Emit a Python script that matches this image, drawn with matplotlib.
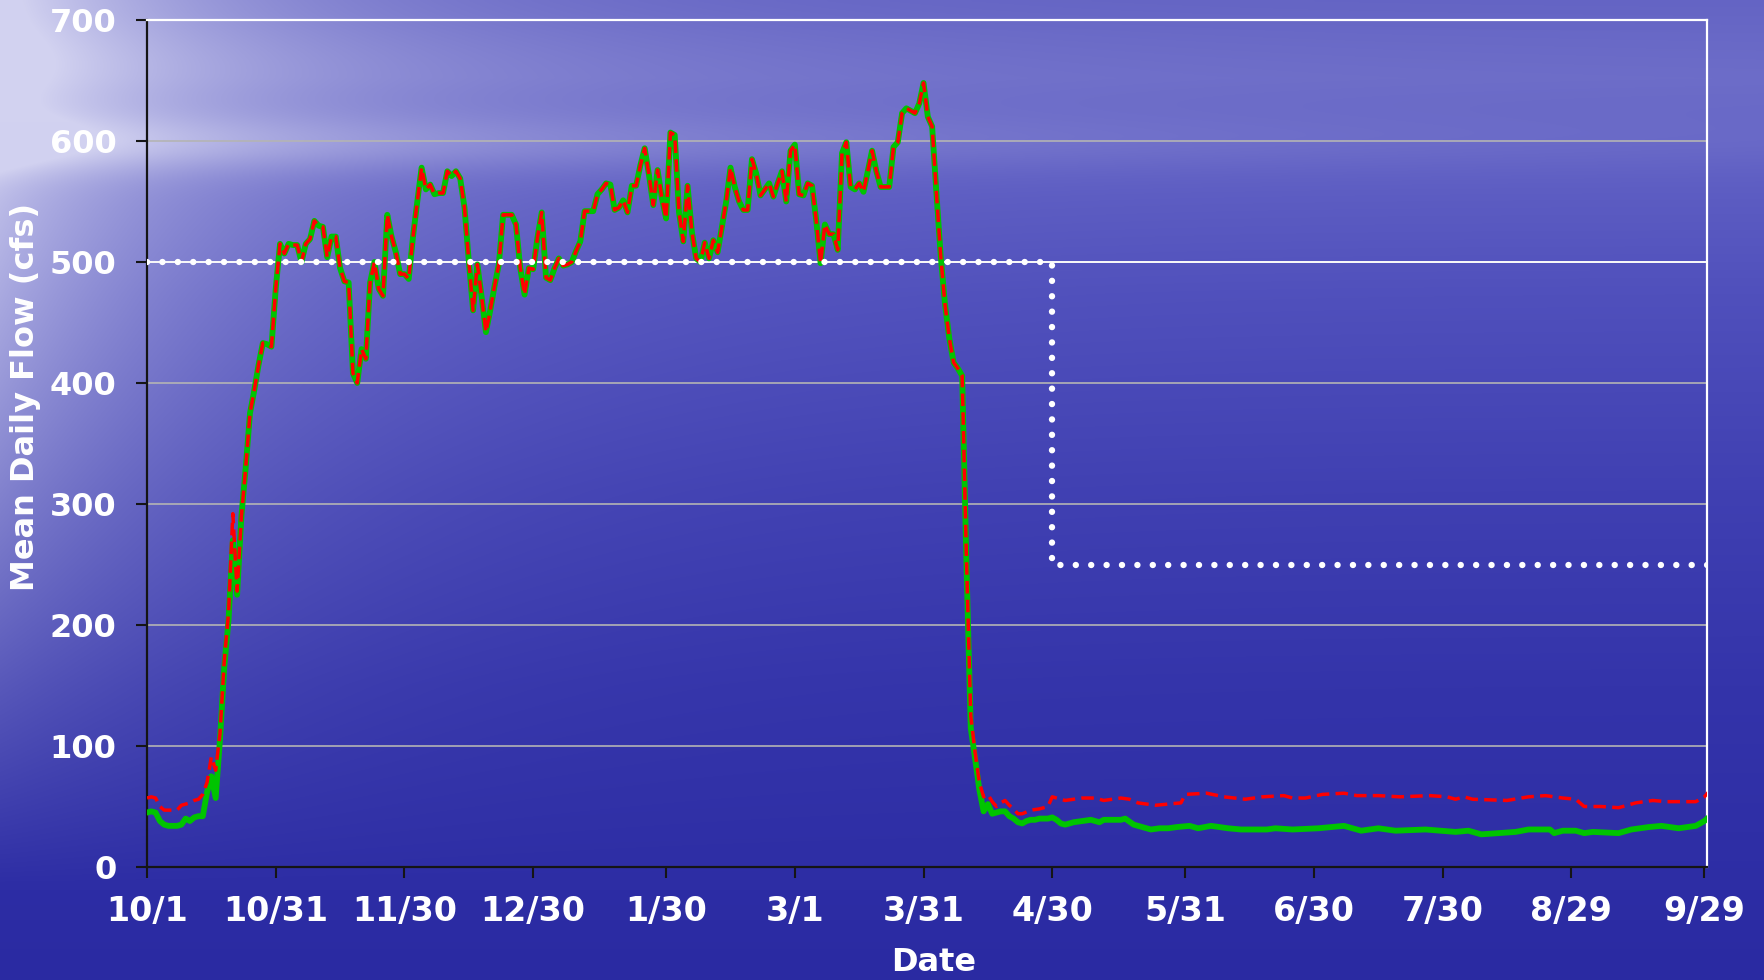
import numpy as np
import pandas as pd
import matplotlib
matplotlib.use("Agg")
import matplotlib.pyplot as plt

# ---- daily flow data (day 0 = 10/1) ----
water_year_start = pd.Timestamp("2006-10-01")

# early October, before the two records merge
start_days = list(range(0, 22))
green_start = [45, 46, 45, 38, 35, 34, 34, 34, 35, 40, 38, 41, 42, 42, 62, 75, 57, 105, 165, 204, 270, 225]
red_start = [57, 58, 57, 50, 47, 47, 47, 47, 51, 52, 53, 55, 56, 60, 70, 91, 80, 110, 170, 210, 292, 228]

# high-flow season, both records identical (days 22..190)
peak_first_day = 22
peak_flow = [
    290, 330, 375, 394, 415, 433, 432, 430, 478, 515,
    507, 515, 514, 514, 500, 515, 519, 534, 530, 529,
    504, 521, 521, 495, 484, 483, 408, 400, 428, 420,
    483, 500, 478, 472, 539, 521, 508, 490, 490, 486,
    521, 550, 578, 560, 564, 556, 557, 557, 575, 571,
    575, 569, 545, 501, 460, 498, 471, 442, 460, 480,
    498, 539, 539, 539, 531, 495, 473, 495, 494, 520,
    541, 487, 485, 495, 503, 497, 498, 500, 509, 517,
    542, 542, 542, 556, 560, 565, 564, 543, 545, 551,
    541, 563, 563, 580, 594, 572, 547, 576, 553, 536,
    607, 605, 541, 517, 563, 525, 503, 500, 516, 503,
    518, 508, 529, 550, 578, 562, 550, 543, 543, 585,
    573, 555, 560, 565, 554, 565, 575, 550, 592, 597,
    556, 555, 565, 563, 534, 499, 531, 523, 523, 510,
    590, 599, 562, 560, 565, 558, 575, 592, 575, 562,
    562, 562, 595, 599, 623, 627, 625, 623, 631, 648,
    620, 612, 557, 505, 465, 437, 417, 412, 406,
]

# recession and summer low flow
green_tail_days = [191, 192, 193, 194, 195, 196, 197, 198, 199, 200,
                   201, 202, 203, 204, 205, 206, 207, 208, 209, 210,
                   211, 212, 213, 214, 216, 218, 220, 222, 223, 226,
                   227, 228, 230, 232, 234, 236, 238, 240, 243, 245,
                   248, 252, 255, 261, 263, 267, 273, 279, 283, 287,
                   291, 298, 305, 308, 311, 315, 319, 322, 327, 328,
                   330, 333, 335, 337, 343, 346, 350, 353, 357, 361,
                   363, 364]
green_tail = [250, 115, 90, 64, 46, 52, 44, 45, 46, 46,
              42, 40, 37, 36, 38, 39, 39, 40, 40, 40,
              41, 39, 36, 35, 37, 38, 39, 37, 39, 39,
              39, 40, 35, 33, 31, 32, 32, 33, 34, 32,
              34, 32, 31, 31, 32, 31, 32, 34, 30, 32,
              30, 31, 29, 30, 27, 28, 29, 31, 31, 28,
              30, 30, 28, 29, 28, 31, 33, 34, 32, 34,
              38, 41]

red_tail_days = [191, 192, 193, 194, 195, 196, 197, 198, 199, 200,
                 201, 202, 203, 204, 206, 208, 210, 211, 214, 218,
                 221, 223, 227, 229, 231, 235, 238, 241, 242, 247,
                 251, 256, 260, 265, 267, 270, 274, 279, 282, 287,
                 292, 299, 303, 305, 307, 309, 317, 322, 326, 330,
                 333, 335, 339, 343, 347, 351, 354, 361, 363, 364]
red_tail = [255, 125, 95, 70, 58, 60, 54, 50, 53, 55,
            51, 48, 44, 44, 47, 48, 50, 58, 55, 57,
            57, 55, 57, 56, 53, 51, 52, 53, 60, 61,
            58, 56, 58, 59, 57, 57, 60, 61, 59, 59,
            58, 59, 58, 56, 58, 56, 55, 58, 59, 57,
            56, 50, 50, 49, 53, 55, 54, 54, 58, 62]

# minimum flow requirement: 500 cfs until 4/30, then 250 cfs
threshold_days = [0, 211, 211, 365]
threshold_flow = [500, 500, 250, 250]

tick_labels = ["10/1", "10/31", "11/30", "12/30", "1/30", "3/1", "3/31",
               "4/30", "5/31", "6/30", "7/30", "8/29", "9/29"]
y_ticks = [0, 100, 200, 300, 400, 500, 600, 700]


def to_dates(days):
    return water_year_start + pd.to_timedelta(np.asarray(days, dtype=float), unit="D")


def label_to_date(label):
    month, day = (int(v) for v in label.split("/"))
    year = water_year_start.year if month >= 10 else water_year_start.year + 1
    return pd.Timestamp(year=year, month=month, day=day)


peak_days = list(range(peak_first_day, peak_first_day + len(peak_flow)))
green_days = start_days + peak_days + green_tail_days
green_flow = green_start + peak_flow + green_tail
red_days = start_days + peak_days + red_tail_days
red_flow = red_start + peak_flow + red_tail

# ---- ocean-like backdrop ----
W, H = 1765, 980
yy = np.linspace(0, 1, H)[:, None]
xx = np.linspace(0, 1, W)[None, :]

stops = [0.0, 0.08, 0.17, 0.30, 0.50, 0.70, 1.0]
r_st = [100, 108, 96, 80, 64, 52, 42]
b_st = [196, 200, 196, 188, 178, 170, 162]
r = np.interp(yy, stops, r_st) * np.ones_like(xx)
b = np.interp(yy, stops, b_st) * np.ones_like(xx)
bg = np.stack([r, r, b], axis=-1)

# light haze on the left side, clouds and a bright band along the horizon
haze = np.exp(-xx / 0.14) * np.clip(0.95 - 1.05 * yy, 0, 1)
horizon = 0.40 * np.exp(-((yy - 0.145) / 0.03) ** 2) * np.exp(-xx / 0.45)
cloud = 0.22 * np.exp(-((yy - 0.07) / 0.05) ** 2) * np.exp(-xx / 0.30)
light = np.clip(haze + horizon + cloud, 0, 0.9)[..., None]
bg = bg * (1 - light) + np.array([222, 222, 245]) * light
bg = np.clip(bg, 0, 255).astype(np.uint8)

fig = plt.figure(figsize=(17.65, 9.8), dpi=100)
bg_ax = fig.add_axes([0, 0, 1, 1], zorder=0)
bg_ax.imshow(bg, aspect="auto", interpolation="bilinear")
bg_ax.axis("off")

ax = fig.add_axes([0.0833, 0.1153, 0.8838, 0.8643], zorder=1)
ax.set_facecolor("none")

ax.set_ylim(0, 700)
ax.set_xlim(water_year_start, water_year_start + pd.Timedelta(days=363.6))

for yv in y_ticks[1:-1]:
    ax.axhline(yv, color="#b4b4b4", lw=1.2, zorder=1)
ax.axhline(500, color="white", lw=1.3, zorder=1.5)

ax.plot(to_dates(green_days), green_flow, color="#00c400", lw=4.2,
        solid_joinstyle="round", zorder=3)
ax.plot(to_dates(red_days), red_flow, color="#ff0000", lw=2.5,
        dashes=(3.6, 1.8), zorder=3.5)

ax.plot(to_dates(threshold_days), threshold_flow, color="white", lw=4.6,
        linestyle=(0, (0.01, 2.4)), dash_capstyle="round", zorder=4)

ax.set_yticks(y_ticks)
ax.set_xticks([label_to_date(t) for t in tick_labels])
ax.set_xticklabels(tick_labels)

for lab in ax.get_yticklabels():
    lab.set_fontsize(23)
for lab in ax.get_xticklabels():
    lab.set_fontsize(24)
for lab in ax.get_xticklabels() + ax.get_yticklabels():
    lab.set_color("white")
    lab.set_fontweight("bold")
    lab.set_fontfamily("DejaVu Sans")

ax.tick_params(axis="both", direction="out", length=8, width=1.5, color="#151515")
ax.tick_params(axis="x", pad=12)
ax.tick_params(axis="y", pad=14)

for side in ("top", "right"):
    ax.spines[side].set_color("white")
    ax.spines[side].set_linewidth(1.6)
for side in ("left", "bottom"):
    ax.spines[side].set_color("#151515")
    ax.spines[side].set_linewidth(1.6)

ax.set_xlabel("Date", color="white", fontsize=23, fontweight="bold")
ax.xaxis.set_label_coords(0.504, -0.095)
ax.set_ylabel("Mean Daily Flow (cfs)", color="white", fontsize=23, fontweight="bold")
ax.yaxis.set_label_coords(-0.068, 0.555)

fig.savefig("out.png", dpi=100)
